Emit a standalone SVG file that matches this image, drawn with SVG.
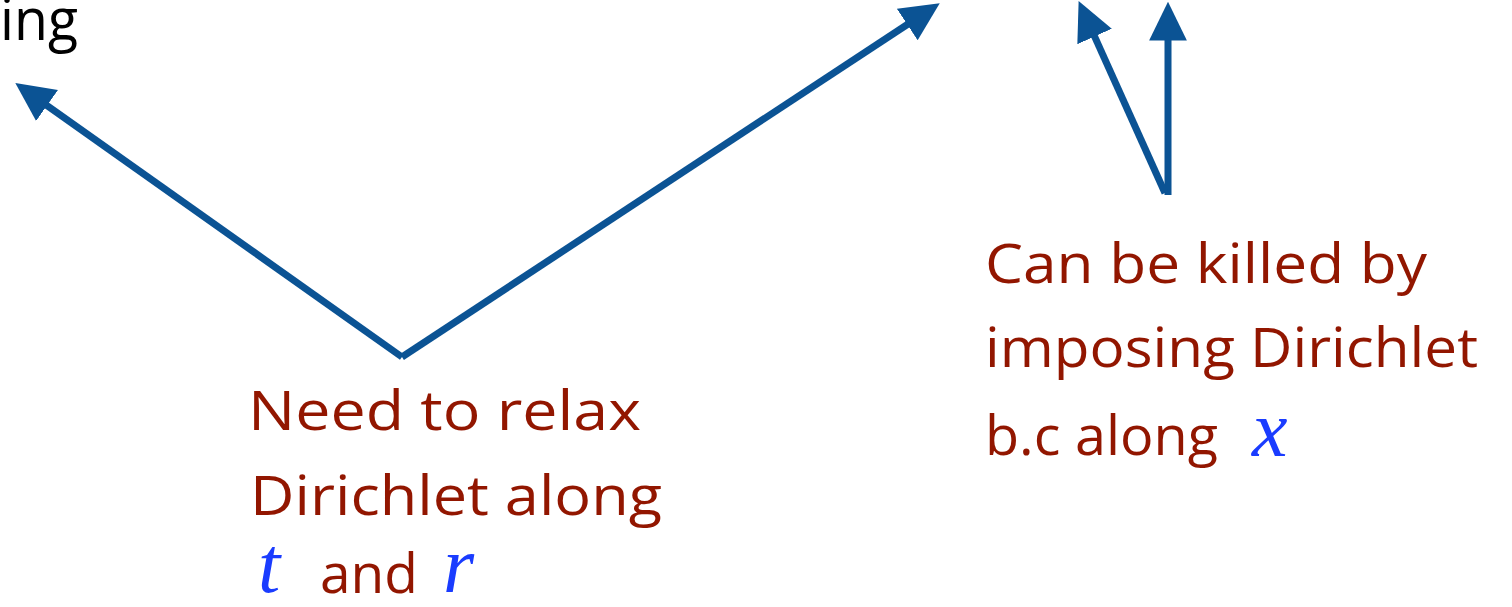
<svg xmlns="http://www.w3.org/2000/svg" width="1512" height="607" viewBox="0 0 1512 607">
<style>
.lbl{font-family:"Comic Sans MS","Open Sans","Noto Sans",sans-serif;font-size:54px;fill:#921600}
.var{font-family:"Liberation Serif","Times New Roman",serif;font-style:italic;font-size:80px;fill:#1a3cff}
.blk{font-family:"Comic Sans MS","Open Sans","Noto Sans",sans-serif;font-size:58px;fill:#000}
.arr{stroke:#0b5394;stroke-width:7;fill:none;marker-end:url(#ah)}
</style>
<defs>
<marker id="ah" markerUnits="userSpaceOnUse" markerWidth="40" markerHeight="40" viewBox="0 -18 36 36" refX="5" refY="0" orient="auto">
<path d="M0,-17 L35,0 L0,17 z" fill="#0b5394"/>
</marker>
</defs>
<rect width="1512" height="607" fill="#fff"/>
<g id="connectors">
<path class="arr" d="M402,357 L42.5,102.3"/>
<path class="arr" d="M402,357 L911.9,21.5"/>
<path class="arr" d="M1168,195 L1168,35"/>
<path class="arr" d="M1165,193 L1092.3,31.4"/>
</g>
<g id="top-left">
<text class="blk" x="0" y="40" textLength="78" lengthAdjust="spacingAndGlyphs">ing</text>
</g>
<g id="relax">
<text class="lbl" x="248" y="430" textLength="393" lengthAdjust="spacingAndGlyphs">Need to relax</text>
<text class="lbl" x="250" y="515" textLength="412" lengthAdjust="spacingAndGlyphs">Dirichlet along</text>
<text class="var" x="258" y="592">t</text>
<text class="lbl" x="320" y="593" textLength="98" lengthAdjust="spacingAndGlyphs">and</text>
<text class="var" x="443" y="592">r</text>
</g>
<g id="killed">
<text class="lbl" x="985" y="283" textLength="442" lengthAdjust="spacingAndGlyphs">Can be killed by</text>
<text class="lbl" x="985" y="367" textLength="493" lengthAdjust="spacingAndGlyphs">imposing Dirichlet</text>
<text class="lbl" x="985" y="455" textLength="233" lengthAdjust="spacingAndGlyphs">b.c along</text>
<text class="var" x="1252" y="456">x</text>
</g>
</svg>
